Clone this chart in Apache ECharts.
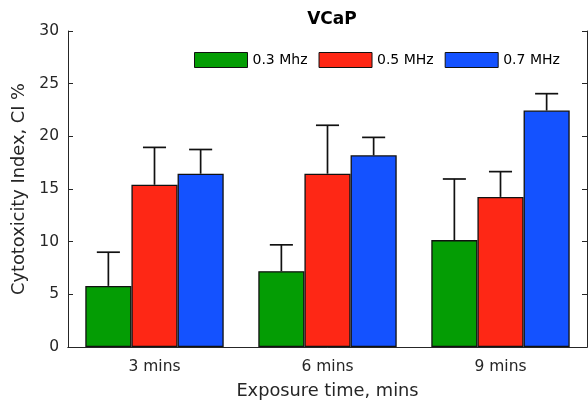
<!DOCTYPE html>
<html><head><meta charset="utf-8">
<script src="https://cdn.jsdelivr.net/npm/echarts@6/dist/echarts.min.js"></script>
<style>html,body{margin:0;padding:0;background:#fff}#c{width:588px;height:405px}</style>
</head><body><div id="c"></div>
<script>
const categories = ['3 mins', '6 mins', '9 mins'];
const seriesNames = ['0.3 Mhz', '0.5 MHz', '0.7 MHz'];
const means03 = [5.8, 7.2, 10.15];
const means05 = [15.4, 16.45, 14.25];
const means07 = [16.45, 18.2, 22.45];
const err03 = [3.2, 2.5, 5.8];
const err05 = [3.55, 4.6, 2.4];
const err07 = [2.3, 1.7, 1.6];
const yTicks = [0, 5, 10, 15, 20, 25, 30];

const colors = ['#049D04', '#FE2715', '#1452FF'];
const means = [means03, means05, means07];
const errs = [err03, err05, err07];
const axisCol = '#262626';
const font = 'DejaVu Sans, sans-serif';

const chart = echarts.init(document.getElementById('c'));
const series = [];
means.forEach((m, i) => {
  series.push({
    name: seriesNames[i], type: 'bar', data: m,
    barGap: '0%', barCategoryGap: '20%',
    itemStyle: { color: colors[i], borderColor: '#111', borderWidth: 1.3 },
    z: 2
  });
});
errs.forEach((e, i) => {
  series.push({
    name: 'err' + i, type: 'custom', z: 3,
    data: e.map((v, k) => [k, means[i][k], v]),
    encode: { x: 0, y: 1 },
    renderItem: function (params, api) {
      const k = api.value(0), m = api.value(1), ev = api.value(2);
      const band = api.size([1, 0])[0];
      const off = (i - 1) * band * 0.8 / 3;
      const p0 = api.coord([k, m]);
      const p1 = api.coord([k, m + ev]);
      const x = p0[0] + off;
      const cap = band * 0.8 / 3 / 4;
      return { type: 'group', children: [
        { type: 'line', shape: { x1: x, y1: p0[1], x2: x, y2: p1[1] }, style: { stroke: '#111', lineWidth: 1.7 } },
        { type: 'line', shape: { x1: x - cap, y1: p1[1], x2: x + cap, y2: p1[1] }, style: { stroke: '#111', lineWidth: 1.7 } }
      ]};
    }
  });
});

chart.setOption({
  animation: false,
  textStyle: { fontFamily: font },
  title: { text: 'VCaP', left: 327, top: 6, textAlign: 'center',
    textStyle: { fontFamily: font, fontSize: 17, fontWeight: 'bold', color: '#000' } },
  legend: {
    data: seriesNames, left: 194, top: 52, itemWidth: 53, itemHeight: 15, itemGap: 11,
    padding: 0, icon: 'rect',
    itemStyle: { borderWidth: 1, borderColor: '#111' },
    textStyle: { fontFamily: font, fontSize: 14, color: '#000' }
  },
  grid: { left: 68, right: 1, top: 31, bottom: 58 },
  xAxis: [
    { type: 'category', data: categories, position: 'bottom',
      axisLine: { lineStyle: { color: axisCol } },
      axisTick: { inside: true, length: 5, alignWithLabel: false, lineStyle: { color: axisCol } },
      axisLabel: { fontSize: 15.5, color: axisCol, margin: 12, fontFamily: font },
      name: 'Exposure time, mins', nameLocation: 'middle', nameGap: 35,
      nameTextStyle: { fontSize: 17.8, color: axisCol, fontFamily: font } },
    { type: 'category', data: categories, position: 'top',
      axisLine: { lineStyle: { color: axisCol } },
      axisTick: { inside: true, length: 5, alignWithLabel: true, lineStyle: { color: axisCol } },
      axisLabel: { show: false } },
    { type: 'category', data: categories, position: 'top',
      axisLine: { show: false },
      axisTick: { inside: true, length: 5, alignWithLabel: false, lineStyle: { color: axisCol } },
      axisLabel: { show: false } }
  ],
  yAxis: [
    { type: 'value', min: 0, max: 30, interval: 5, position: 'left',
      axisLine: { show: true, lineStyle: { color: axisCol } },
      axisTick: { show: true, inside: true, length: 5, lineStyle: { color: axisCol } },
      splitLine: { show: false },
      axisLabel: { fontSize: 15.5, color: axisCol, margin: 9, fontFamily: font,
        formatter: v => yTicks.includes(v) ? String(v) : '' },
      name: 'Cytotoxicity Index, CI %', nameLocation: 'middle', nameGap: 38,
      nameTextStyle: { fontSize: 17.8, color: axisCol, fontFamily: font } },
    { type: 'value', min: 0, max: 30, interval: 5, position: 'right',
      axisLine: { show: true, lineStyle: { color: axisCol } },
      axisTick: { show: true, inside: true, length: 5, lineStyle: { color: axisCol } },
      splitLine: { show: false }, axisLabel: { show: false } }
  ],
  series: series
});
</script></body></html>
